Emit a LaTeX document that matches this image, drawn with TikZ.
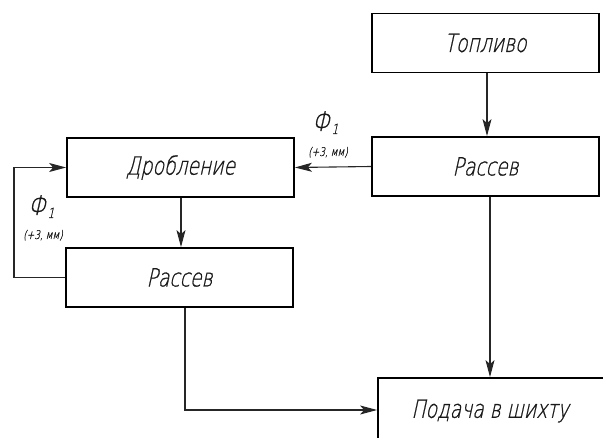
\documentclass[tikz,border=0pt]{standalone}
\usepackage{fontspec}
\newfontfamily\gost[FakeSlant=0.22,FakeStretch=0.75,FakeBold=0.8]{DejaVu Sans ExtraLight}
\usetikzlibrary{arrows.meta}
\tikzset{
  blk/.style={draw, line width=1.8pt, minimum width=#1, minimum height=59pt, inner sep=0pt,
    font=\gost\fontsize{25}{25}\selectfont, text=black!90},
  blk/.default=227pt,
  conn/.style={line width=1.1pt, draw=black!85},
  arr/.style={conn, -{Stealth[length=17pt,width=9pt,inset=4pt]}},
  lbl/.style={font=\gost\fontsize{27}{27}\selectfont, text=black!90, inner sep=0pt},
  sub/.style={font=\gost\fontsize{12}{12}\selectfont, text=black!90, inner sep=0pt}
}
\begin{document}
\begin{tikzpicture}[x=1pt,y=-1pt]
\useasboundingbox (0,0) rectangle (603,438);
\clip (0,0) rectangle (603,438);
\node[blk] (fuel) at (485.5,43) {Топливо};
\node[blk] (sr) at (485.5,166.5) {Рассев};
\node[blk] (crush) at (180.5,167.5) {Дробление};
\node[blk] (sl) at (179.5,277.5) {Рассев};
\node[blk=240pt, minimum height=66pt] (feed) at (498,411) {\hspace*{-16pt}\raisebox{-2pt}{Подача в шихту}};
\coordinate (l1) at (14,277.5);
\coordinate (l2) at (14,167.5);
\coordinate (d1) at (185,410);
\draw[arr] (fuel.south -| 487,0) -- (sr.north -| 487,0);
\draw[arr] (sr.west) -- (crush.east);
\draw[arr] (crush.south -| 181,0) -- (sl.north -| 181,0);
\draw[arr] (sr.south -| 490,0) -- (feed.north -| 490,0);
\draw[arr] (sl.south -| d1) -- (d1) -- (feed.west |- d1);
\draw[arr] (sl.west) -- (l1) -- (l2) -- (crush.west);
\node[lbl, anchor=base west] (phi1) at (312,131) {Ф\kern2pt\raisebox{-3pt}{\fontsize{14}{14}\selectfont 1}};
\node[sub, anchor=base] (u1) at (328,156) {(+3, мм)};
\node[lbl, anchor=base west] (phi2) at (28,215) {Ф\kern2pt\raisebox{-3pt}{\fontsize{14}{14}\selectfont 1}};
\node[sub, anchor=base] (u2) at (43,239) {(+3, мм)};
\end{tikzpicture}
\end{document}
